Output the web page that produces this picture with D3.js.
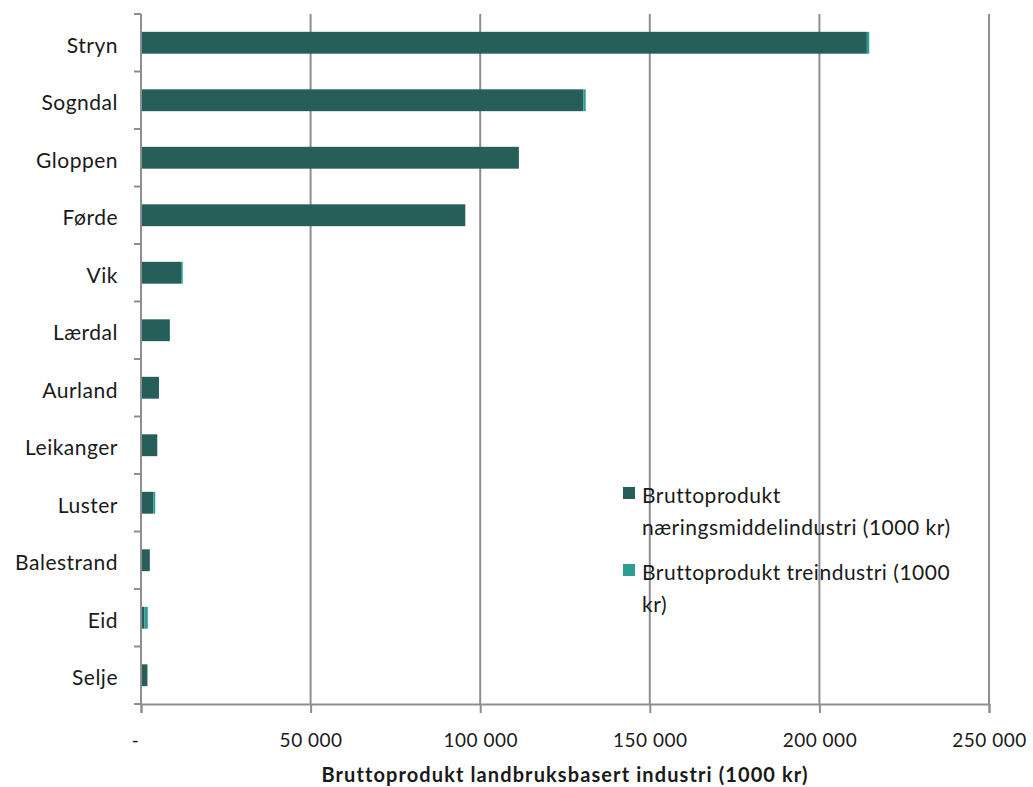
<!DOCTYPE html>
<html>
<head>
<meta charset="utf-8">
<script src="https://cdn.jsdelivr.net/npm/d3@7"></script>
<style>
  body { margin: 0; background: #fff; }
  text { font-family: Lato, "Open Sans", sans-serif; fill: #1a1a1a; }
</style>
</head>
<body>
<svg id="chart" width="1033" height="787"></svg>
<script>
// kommuner, top to bottom
var kommuner = ["Stryn", "Sogndal", "Gloppen", "Førde", "Vik", "Lærdal", "Aurland",
                "Leikanger", "Luster", "Balestrand", "Eid", "Selje"]
// Bruttoprodukt næringsmiddelindustri (1000 kr)
var naering = [214000, 130400, 111400, 95600, 11800, 8500, 5300, 4800, 3600, 2600, 1000, 1900]
// Bruttoprodukt treindustri (1000 kr)
var tre = [700, 700, 0, 0, 500, 0, 0, 0, 600, 0, 1000, 0]
var seriesNames = ["Bruttoprodukt næringsmiddelindustri (1000 kr)", "Bruttoprodukt treindustri (1000 kr)"]
var xTicks = [0, 50000, 100000, 150000, 200000, 250000]
var xTitle = "Bruttoprodukt landbruksbasert  industri (1000 kr)"

var colors = ["#265f5a", "#2b9d92"]
var margin = {top: 14, left: 141, right: 44, bottom: 83}
var width = 1033 - margin.left - margin.right   // 848
var height = 787 - margin.top - margin.bottom  // 690

var svg = d3.select("#chart")
var g = svg.append("g").attr("transform", "translate(" + margin.left + "," + margin.top + ")")

var x = d3.scaleLinear().domain([0, 250000]).range([0, width])
var y = d3.scaleBand().domain(kommuner).range([0, height]).paddingInner(0.62).paddingOuter(0.31)

var fmt = function(v) {
  if (v === 0) return "-"
  return d3.format(",")(v).replace(/,/g, " ")
}

// gridlines
g.append("g")
  .selectAll("line")
  .data(xTicks.slice(1))
  .enter().append("line")
    .attr("x1", function(d) { return x(d) }).attr("x2", function(d) { return x(d) })
    .attr("y1", 0).attr("y2", height)
    .attr("stroke", "#8e8e8e").attr("stroke-width", 2)

// stacked bars
var stackData = kommuner.map(function(k, i) { return {k: k, a: naering[i], b: tre[i]} })
var stack = d3.stack().keys(["a", "b"])(stackData)
g.append("g")
  .selectAll("g")
  .data(stack)
  .enter().append("g")
    .attr("fill", function(d, i) { return colors[i] })
  .selectAll("rect")
  .data(function(d) { return d })
  .enter().append("rect")
    .attr("x", function(d) { return x(d[0]) })
    .attr("width", function(d) { return x(d[1]) - x(d[0]) })
    .attr("y", function(d) { return y(d.data.k) })
    .attr("height", y.bandwidth())

// x axis
var xAxis = g.append("g")
  .attr("transform", "translate(0," + height + ")")
  .call(d3.axisBottom(x).tickValues(xTicks).tickSize(9).tickPadding(21).tickFormat(fmt))
xAxis.select(".domain").attr("stroke", "#8e8e8e").attr("stroke-width", 2)
xAxis.selectAll(".tick line").attr("stroke", "#8e8e8e").attr("stroke-width", 2)
xAxis.selectAll("text").style("font-size", "19px").style("letter-spacing", "0.5px").attr("fill", "#1a1a1a")
xAxis.selectAll(".tick text").filter(function(d) { return d === 0 }).attr("x", -6)

// y axis: line with ticks between categories
g.append("line")
  .attr("x1", 0).attr("x2", 0).attr("y1", 0).attr("y2", height)
  .attr("stroke", "#8e8e8e").attr("stroke-width", 2)
var step = y.step()
g.append("g")
  .selectAll("line")
  .data(d3.range(kommuner.length + 1))
  .enter().append("line")
    .attr("x1", -7).attr("x2", 0)
    .attr("y1", function(i) { return i * step }).attr("y2", function(i) { return i * step })
    .attr("stroke", "#8e8e8e").attr("stroke-width", 2)

g.append("g")
  .selectAll("text")
  .data(kommuner)
  .enter().append("text")
    .attr("x", -23)
    .attr("y", function(d) { return y(d) + y.bandwidth() / 2 })
    .attr("dy", "0.47em")
    .attr("text-anchor", "end")
    .style("font-size", "21px")
    .style("letter-spacing", "0.5px")
    .text(function(d) { return d })

// axis title
svg.append("text")
  .attr("x", 565).attr("y", 782)
  .attr("text-anchor", "middle")
  .style("font-size", "20px").style("font-weight", "bold")
  .style("letter-spacing", "1.1px")
  .text(xTitle)

// legend
var legendLines = [["Bruttoprodukt", "næringsmiddelindustri (1000 kr)"], ["Bruttoprodukt treindustri (1000", "kr)"]]
var legend = svg.append("g").attr("transform", "translate(623,484)")
legendLines.forEach(function(lines, i) {
  var item = legend.append("g").attr("transform", "translate(0," + (i * 77) + ")")
  item.append("rect").attr("width", 12).attr("height", 12).attr("y", 3).attr("fill", colors[i])
  item.append("title").text(seriesNames[i])
  lines.forEach(function(t, j) {
    item.append("text")
      .attr("x", 19).attr("y", 19 + j * 32)
      .style("font-size", "21px")
      .style("letter-spacing", "0.5px")
      .text(t)
  })
})
</script>
</body>
</html>
